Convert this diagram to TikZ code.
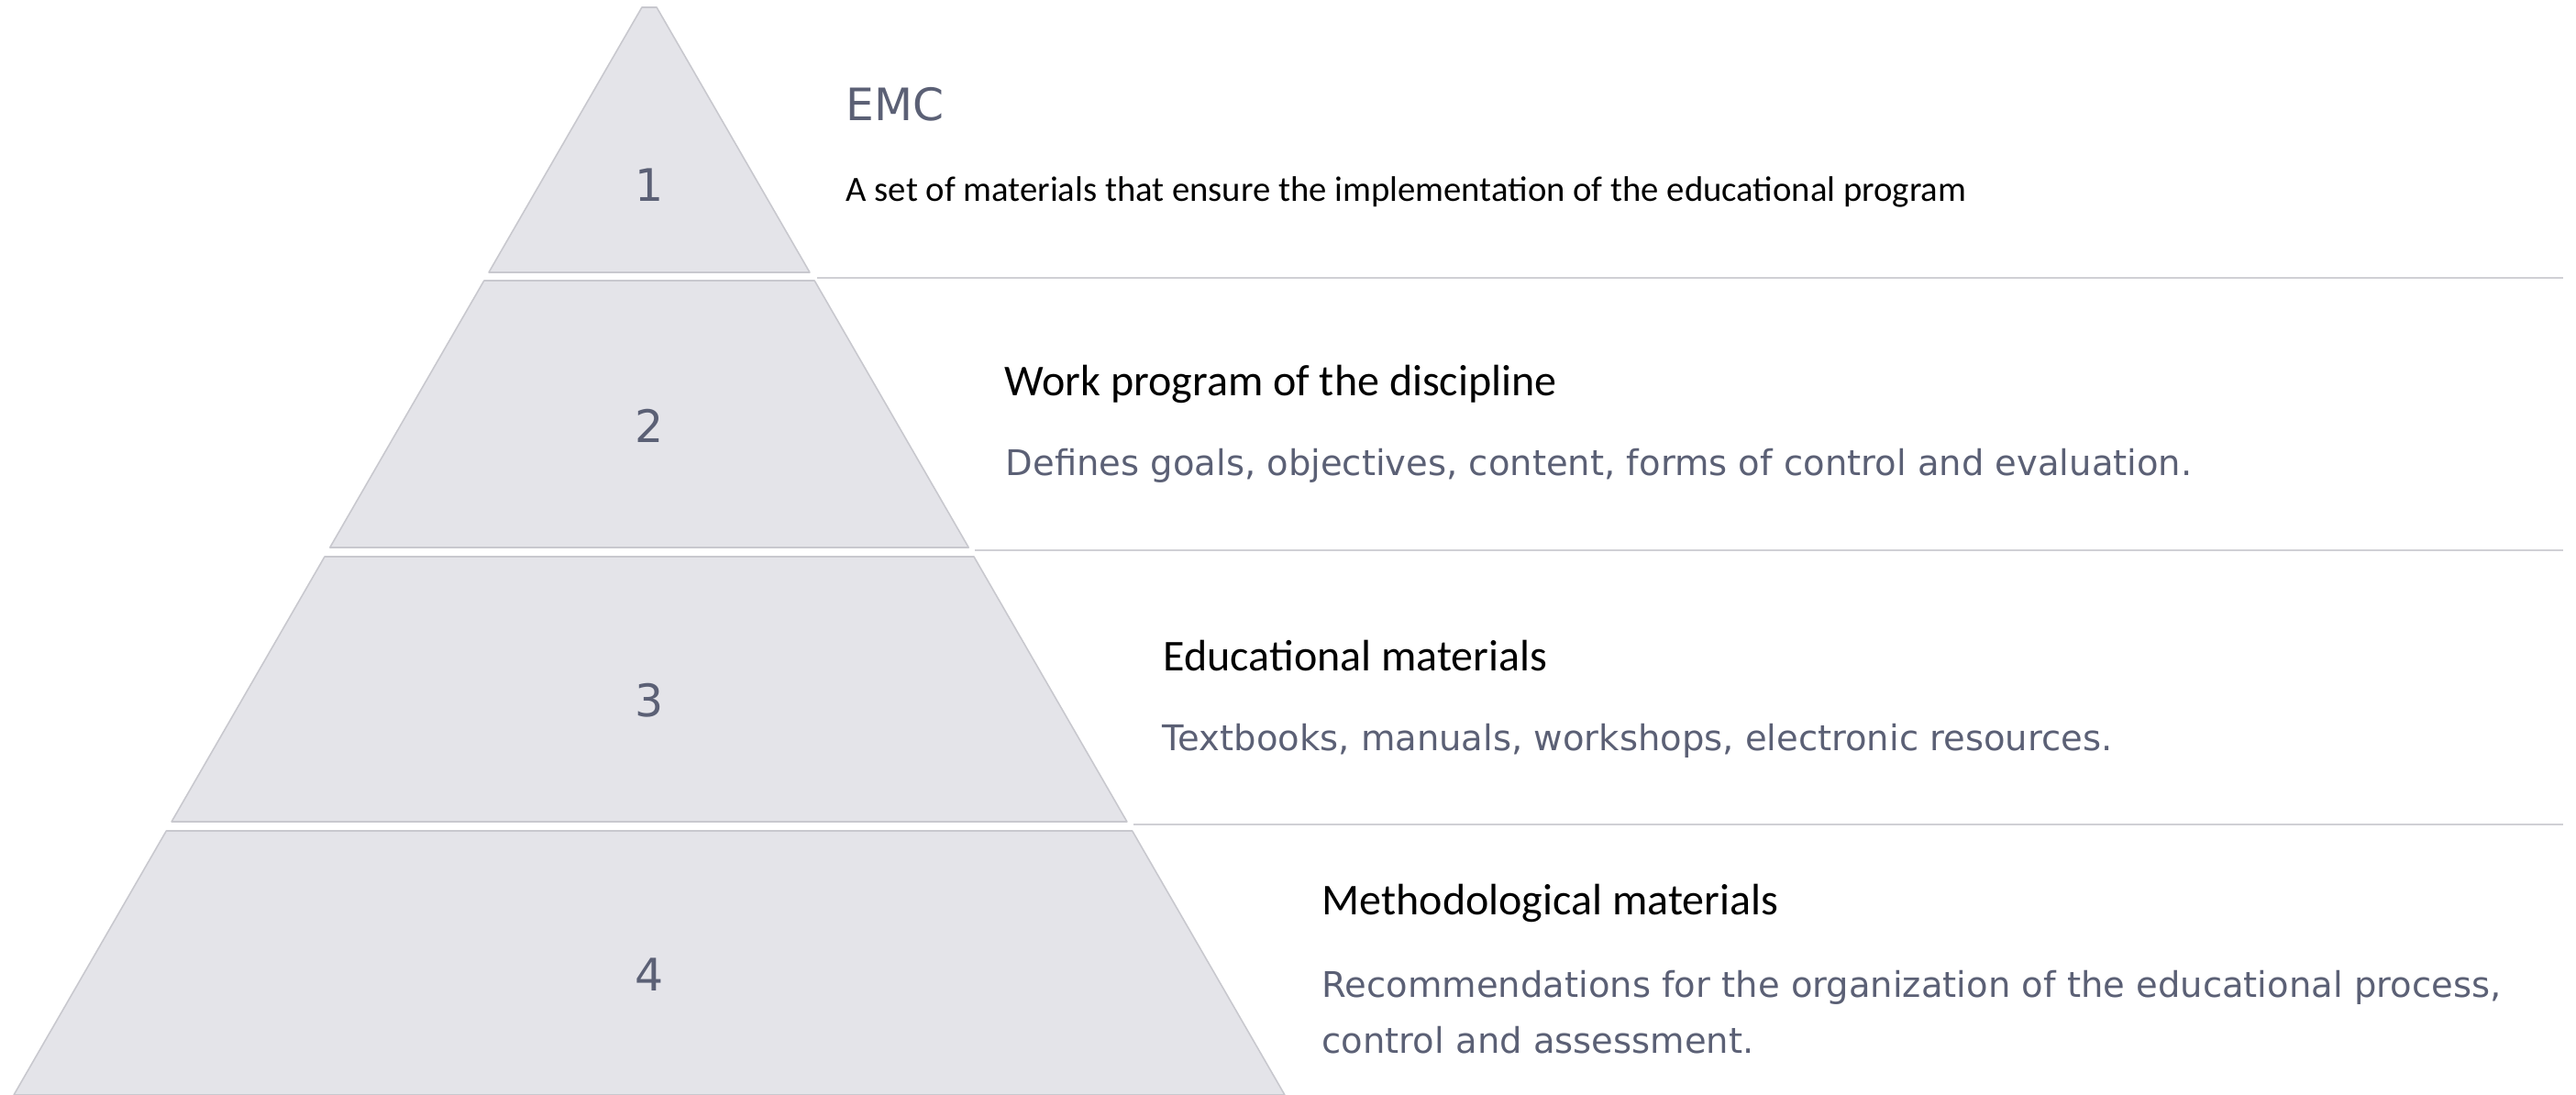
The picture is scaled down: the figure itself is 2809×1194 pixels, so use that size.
\documentclass[tikz,border=0pt]{standalone}
\usepackage{fontspec}
\usepackage{tikz}
\setmainfont{Carlito}
\newfontfamily\dejavu{DejaVu Sans}
\definecolor{slate}{RGB}{91, 96, 117}
\definecolor{tierfill}{RGB}{228, 228, 233}
\definecolor{tieredge}{RGB}{200, 200, 206}
\definecolor{rulegray}{RGB}{208, 208, 213}
\tikzset{tierbox/.style = {fill=tierfill, draw=tieredge, line width=0.45pt, line join=round},
         rulebar/.style = {draw=rulegray, line width=0.7pt},
         numlabel/.style = {inner sep=0, anchor=base, text=slate,
                            font=\dejavu\fontsize{13.9pt}{16pt}\selectfont},
         headtext/.style = {inner sep=0, anchor=base west, text=black,
                            font=\fontsize{13.65pt}{16pt}\selectfont},
         headgray/.style = {inner sep=0, anchor=base west, text=slate,
                            font=\dejavu\fontsize{13.85pt}{16pt}\selectfont},
         desctext/.style = {inner sep=0, anchor=base west, text=slate,
                            font=\dejavu\fontsize{10.95pt}{13pt}\selectfont},
         descblack/.style = {inner sep=0, anchor=base west, text=black,
                             font=\fontsize{11pt}{13pt}\selectfont}}

\begin{document}
\begin{tikzpicture}[x=0.01cm, y=-0.01cm]
  \useasboundingbox (0, 0) rectangle (2809, 1194);

  \foreach \t/\b/\ny [count=\n] in {8/297/220, 306/597/482, 607/896/781, 906/1194/1080} {
    \pgfmathsetmacro\wt{0.5775 * (\t + 6)};
    \pgfmathsetmacro\wb{0.5775 * (\b + 6)};
    \draw [tierbox] (708 - \wt, \t) -- (708 + \wt, \t) -- (708 + \wb, \b) -- (708 - \wb, \b) -- cycle;
    \node [numlabel] (num\n) at (708, \ny) {\n};
  }

  \foreach \y in {303, 600, 899} {
    \pgfmathsetmacro\xs{713 + 0.5775 * (\y + 6)};
    \draw [rulebar] (\xs, \y) -- (2795, \y);
  }

  \node [headgray] (emc) at (922, 132) {EMC};
  \node [descblack] (emcdesc) at (922, 219) {A set of materials that ensure the implementation of the educational program};

  \node [headtext] (workprog) at (1095, 431) {Work program of the discipline};
  \node [desctext] (workdesc) at (1096, 518) {Defines goals, objectives, content, forms of control and evaluation.};

  \node [headtext] (edumat) at (1268, 731) {Educational materials};
  \node [desctext] (edudesc) at (1267, 818) {Textbooks, manuals, workshops, electronic resources.};

  \node [headtext] (methmat) at (1441, 997) {Methodological materials};
  \node [desctext] (methdesc) at (1441, 1087) {Recommendations for the organization of the educational process,};
  \node [desctext] (methdescb) at (1441, 1148) {control and assessment.};
\end{tikzpicture}
\end{document}
